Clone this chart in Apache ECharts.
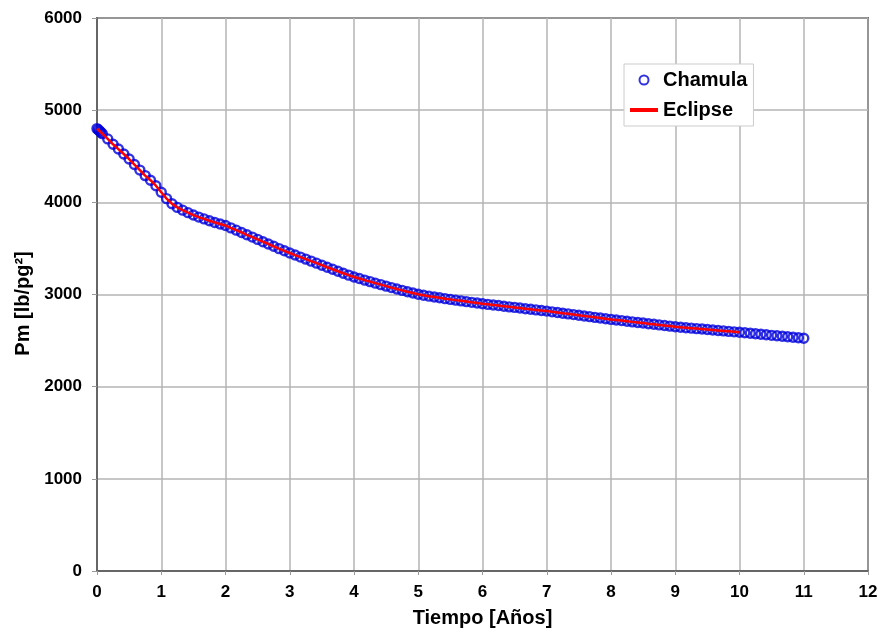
<!DOCTYPE html>
<html>
<head>
<meta charset="utf-8">
<script src="https://cdn.jsdelivr.net/npm/echarts@6/dist/echarts.min.js"></script>
<style>
  html, body { margin: 0; padding: 0; background: #fff; }
  #chart { width: 884px; height: 633px; }
</style>
</head>
<body>
<div id="chart"></div>
<script>
// tiempo en años (puntos de Chamula)
var tiempo = [
  0, 0.02, 0.04, 0.06, 0.083, 0.167, 0.25, 0.333, 0.417, 0.5, 0.583, 0.667, 0.75, 0.833, 0.917,
  1, 1.083, 1.167, 1.25, 1.333, 1.417, 1.5, 1.583, 1.667, 1.75, 1.833, 1.917,
  2, 2.083, 2.167, 2.25, 2.333, 2.417, 2.5, 2.583, 2.667, 2.75, 2.833, 2.917,
  3, 3.083, 3.167, 3.25, 3.333, 3.417, 3.5, 3.583, 3.667, 3.75, 3.833, 3.917,
  4, 4.083, 4.167, 4.25, 4.333, 4.417, 4.5, 4.583, 4.667, 4.75, 4.833, 4.917,
  5, 5.083, 5.167, 5.25, 5.333, 5.417, 5.5, 5.583, 5.667, 5.75, 5.833, 5.917,
  6, 6.083, 6.167, 6.25, 6.333, 6.417, 6.5, 6.583, 6.667, 6.75, 6.833, 6.917,
  7, 7.083, 7.167, 7.25, 7.333, 7.417, 7.5, 7.583, 7.667, 7.75, 7.833, 7.917,
  8, 8.083, 8.167, 8.25, 8.333, 8.417, 8.5, 8.583, 8.667, 8.75, 8.833, 8.917,
  9, 9.083, 9.167, 9.25, 9.333, 9.417, 9.5, 9.583, 9.667, 9.75, 9.833, 9.917,
  10, 10.083, 10.167, 10.25, 10.333, 10.417, 10.5, 10.583, 10.667, 10.75, 10.833, 10.917,
  11
];
// presión media [lb/pg2]
var pm = [
  4800, 4787, 4774, 4761, 4745, 4688, 4630, 4578, 4524, 4470, 4410, 4350, 4290, 4240, 4180,
  4110, 4040, 3985, 3945, 3915, 3888, 3862, 3840, 3820, 3800, 3782, 3765,
  3748, 3723, 3698, 3673, 3648, 3623, 3598, 3573, 3548, 3523, 3498, 3474,
  3450, 3428, 3406, 3384, 3362, 3340, 3318, 3296, 3274, 3252, 3231, 3210,
  3190, 3173, 3156, 3140, 3123, 3107, 3091, 3075, 3060, 3045, 3030, 3016,
  3003, 2992, 2982, 2973, 2964, 2955, 2947, 2939, 2931, 2923, 2915, 2908,
  2900, 2893, 2886, 2880, 2873, 2866, 2860, 2853, 2846, 2840, 2833, 2826,
  2820, 2812, 2805, 2797, 2790, 2782, 2775, 2767, 2760, 2752, 2745, 2737,
  2730, 2723, 2717, 2710, 2703, 2697, 2690, 2683, 2677, 2670, 2663, 2657,
  2650, 2645, 2640, 2635, 2630, 2625, 2620, 2615, 2610, 2605, 2600, 2595,
  2590, 2585, 2579, 2574, 2568, 2563, 2557, 2552, 2547, 2541, 2536, 2530,
  2525
];
// Eclipse llega hasta 10 años
var finEclipse = 10;

var chamulaData = tiempo.map(function (t, i) { return [t, pm[i]]; });
var eclipseData = chamulaData.filter(function (d) { return d[0] <= finEclipse; });

var fuente = 'Arial, "Liberation Sans", sans-serif';
var myChart = echarts.init(document.getElementById('chart'));
myChart.setOption({
  backgroundColor: '#fff',
  animation: false,
  grid: {
    left: 97, right: 16, top: 18, bottom: 59,
    show: true, borderColor: '#000', borderWidth: 1.5
  },
  legend: {
    orient: 'vertical',
    left: 624, top: 64,
    padding: [6, 6, 6, 4],
    itemGap: 10,
    itemWidth: 28, itemHeight: 9,
    itemTextGap: 3,
    backgroundColor: '#fff',
    borderColor: '#ccc', borderWidth: 1,
    textStyle: { fontFamily: fuente, fontWeight: 'bold', fontSize: 20, color: '#000', lineHeight: 20 },
    data: [
      { name: 'Chamula' },
      { name: 'Eclipse', itemStyle: { opacity: 0 }, lineStyle: { width: 4 } }
    ]
  },
  xAxis: {
    type: 'value', min: 0, max: 12, interval: 1,
    name: 'Tiempo [Años]', nameLocation: 'middle', nameGap: 37,
    nameTextStyle: { fontFamily: fuente, fontWeight: 'bold', fontSize: 20, color: '#000' },
    axisLine: { show: true, onZero: false, lineStyle: { color: '#666', width: 2 } },
    axisTick: { show: true, length: 4, lineStyle: { color: '#999' } },
    axisLabel: { margin: 13, fontFamily: fuente, fontWeight: 'bold', fontSize: 17, color: '#000' },
    splitLine: { show: true, lineStyle: { color: '#b4b4b4', width: 1.5 } }
  },
  yAxis: {
    type: 'value', min: 0, max: 6000, interval: 1000,
    name: 'Pm [lb/pg²]', nameLocation: 'middle', nameGap: 61,
    nameTextStyle: { fontFamily: fuente, fontWeight: 'bold', fontSize: 20, color: '#000', padding: [0, 18, 0, 0] },
    axisLine: { show: true, onZero: false, lineStyle: { color: '#666', width: 2 } },
    axisTick: { show: true, length: 5, lineStyle: { color: '#999' } },
    axisLabel: {
      margin: 15, fontFamily: fuente, fontWeight: 'bold', fontSize: 17, color: '#000',
      formatter: function (v) { return String(v); }
    },
    splitLine: { show: true, lineStyle: { color: '#b4b4b4', width: 1.5 } }
  },
  series: [
    {
      name: 'Chamula',
      type: 'scatter',
      data: chamulaData,
      symbol: 'circle',
      symbolSize: 9,
      itemStyle: { color: 'rgba(255,255,255,0)', borderColor: '#0000dd', borderWidth: 2.4 },
      z: 2
    },
    {
      name: 'Eclipse',
      type: 'line',
      data: eclipseData,
      symbol: 'none',
      lineStyle: { color: '#ff0000', width: 2.5 },
      itemStyle: { color: '#ff0000' },
      z: 3
    }
  ]
});
</script>
</body>
</html>
